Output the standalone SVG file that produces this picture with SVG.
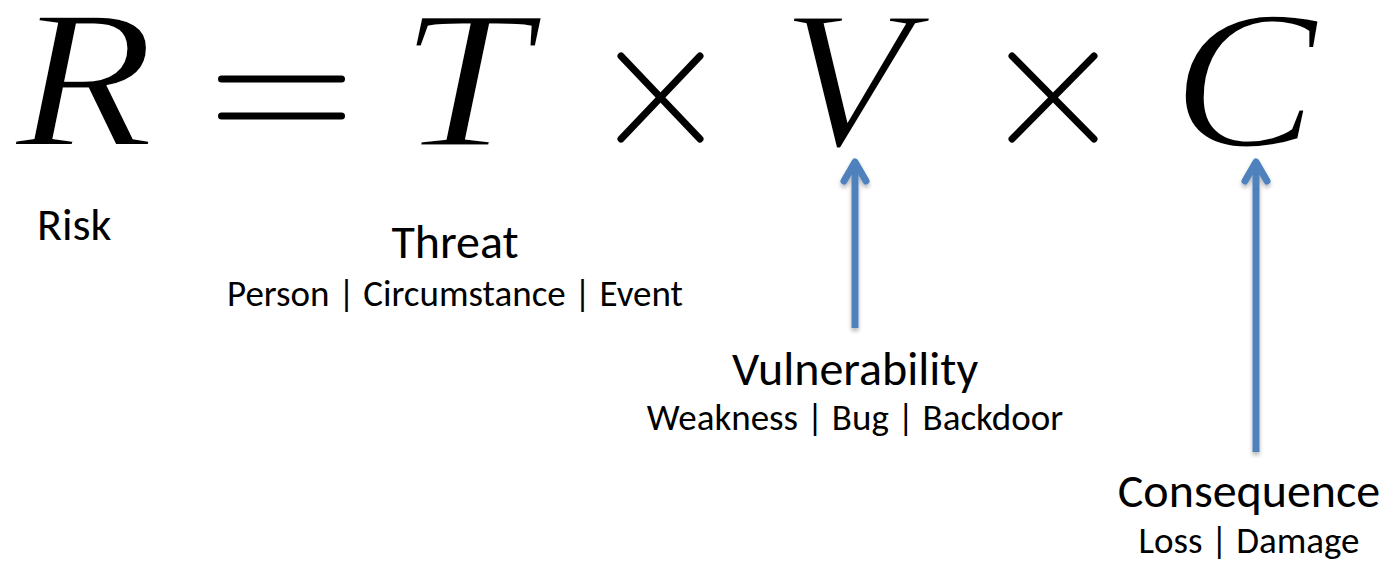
<svg xmlns="http://www.w3.org/2000/svg" width="1389" height="562" viewBox="0 0 1389 562">
  <defs>
    <filter id="soft-shadow" x="-50%" y="-10%" width="200%" height="120%">
      <feGaussianBlur in="SourceAlpha" stdDeviation="2"/>
      <feOffset dx="0" dy="3" result="blur"/>
      <feComponentTransfer><feFuncA type="linear" slope="0.3"/></feComponentTransfer>
      <feMerge><feMergeNode/><feMergeNode in="SourceGraphic"/></feMerge>
    </filter>
  </defs>
  <style>
    .op { stroke: #000; stroke-width: 7; stroke-linecap: round; fill: none; }
    .arrow { stroke: #4F81BD; stroke-width: 7; stroke-linecap: round; stroke-linejoin: round; fill: none; }
    .shaft { stroke: #4F81BD; stroke-width: 7; fill: none; }
  </style>
  <rect width="1389" height="562" fill="#fff"/>

  <!-- formula R = T x V x C; a thin white outline lightens the italic strokes -->
  <g id="formula">
    <text transform="translate(15,146) scale(1.15,1)" x="0" y="0" font-family="Liberation Serif" font-style="italic" font-size="198" fill="#000" stroke="#fff" stroke-width="3">R</text>
    <text transform="translate(399,146) scale(1.18,1)" x="0" y="0" font-family="Liberation Serif" font-style="italic" font-size="198" fill="#000" stroke="#fff" stroke-width="3">T</text>
    <text transform="translate(781,146) scale(1.07,1)" x="0" y="0" font-family="Liberation Serif" font-style="italic" font-size="198" fill="#000" stroke="#fff" stroke-width="3">V</text>
    <text transform="translate(1172,146) scale(1.1,1)" x="0" y="0" font-family="Liberation Serif" font-style="italic" font-size="198" fill="#000" stroke="#fff" stroke-width="3">C</text>
    <line class="op" x1="221.5" y1="79" x2="341.5" y2="79"/>
    <line class="op" x1="221.5" y1="116" x2="341.5" y2="116"/>
    <line class="op" x1="621" y1="56" x2="700" y2="139"/>
    <line class="op" x1="700" y1="56" x2="621" y2="139"/>
    <line class="op" x1="1012" y1="56" x2="1094" y2="139"/>
    <line class="op" x1="1094" y1="56" x2="1012" y2="139"/>
  </g>

  <g id="risk">
    <text x="37" y="240" font-family="Carlito" font-size="46" fill="#000">Risk</text>
  </g>

  <g id="threat">
    <text x="455" y="258" font-family="Carlito" font-size="48" fill="#000" text-anchor="middle">Threat</text>
    <text x="455" y="306" font-family="Carlito" font-size="37" fill="#000" text-anchor="middle">Person | Circumstance | Event</text>
  </g>

  <g id="vulnerability">
    <text x="855" y="385" font-family="Carlito" font-size="48" fill="#000" text-anchor="middle">Vulnerability</text>
    <text x="855" y="430" font-family="Carlito" font-size="37" fill="#000" text-anchor="middle">Weakness | Bug | Backdoor</text>
  </g>

  <g id="consequence">
    <text x="1249" y="507" font-family="Carlito" font-size="48" fill="#000" text-anchor="middle">Consequence</text>
    <text x="1249" y="553" font-family="Carlito" font-size="37" fill="#000" text-anchor="middle">Loss | Damage</text>
  </g>

  <!-- connectors: blue arrows pointing up to V and C -->
  <g id="connectors" filter="url(#soft-shadow)">
    <line class="shaft" x1="855" y1="164" x2="855" y2="328"/>
    <polyline class="arrow" points="844,181 855,162 866,181"/>
    <line class="shaft" x1="1256" y1="164" x2="1256" y2="452"/>
    <polyline class="arrow" points="1245,181 1256,162 1267,181"/>
  </g>
</svg>
